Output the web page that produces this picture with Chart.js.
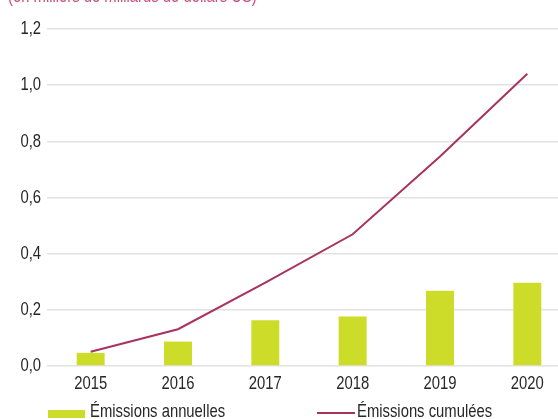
<!DOCTYPE html>
<html>
<head>
<meta charset="utf-8">
<script src="https://cdn.jsdelivr.net/npm/chart.js@4"></script>
<style>
  html,body{margin:0;padding:0;background:#fff;overflow:hidden;width:558px;height:419px;}
  #wrap{position:relative;width:572px;height:419px;}
  .txt{position:absolute;font:19px "Liberation Sans",sans-serif;line-height:19px;white-space:nowrap;transform:scaleX(0.78);transform-origin:0 0;}
  #title{left:8px;top:-14px;color:#c9507f;}
  .lg{top:401px;color:#272727;}
  .sw{position:absolute;}
</style>
</head>
<body>
<div id="wrap">
  <canvas id="c" width="572" height="419"></canvas>
  <div id="title" class="txt">(en milliers de milliards de dollars US)</div>
  <div class="sw" style="left:48px;top:410px;width:37px;height:8px;background:#cddc28"></div>
  <div class="txt lg" style="left:90px">Émissions annuelles</div>
  <div class="sw" style="left:317px;top:412px;width:38px;height:2px;background:#a8335e"></div>
  <div class="txt lg" style="left:357px">Émissions cumulées</div>
</div>
<script>
const years = ['2015','2016','2017','2018','2019','2020'];
const annual = [0.047, 0.087, 0.163, 0.176, 0.268, 0.296];
const cumulative = [0.051, 0.131, 0.297, 0.469, 0.746, 1.041];
const yTicks = [0, 0.2, 0.4, 0.6, 0.8, 1.0, 1.2];

// condensed look for canvas labels (no narrow font installed)
const ctx = document.getElementById('c').getContext('2d');
const rawFill = ctx.fillText.bind(ctx);
ctx.fillText = function(t, x, y, w){
  this.save(); this.translate(x, y); this.scale(0.78, 1);
  if (w === undefined) rawFill(t, 0, 0); else rawFill(t, 0, 0, w / 0.78);
  this.restore();
};

const font = { family: '"Liberation Sans",sans-serif', size: 19 };

new Chart(ctx, {
  data: {
    labels: years,
    datasets: [
      { type: 'line', label: 'Émissions cumulées', data: cumulative, borderColor: '#a8335e', borderWidth: 2, pointRadius: 0, tension: 0, order: 0 },
      { type: 'bar', label: 'Émissions annuelles', data: annual, backgroundColor: '#cddc28', barPercentage: 0.32, categoryPercentage: 1, order: 1 }
    ]
  },
  options: {
    responsive: false,
    animation: false,
    layout: { padding: { top: 29, right: 1, left: 0, bottom: 0 } },
    plugins: { legend: { display: false }, tooltip: { enabled: false } },
    scales: {
      x: {
        grid: { display: false },
        border: { display: false },
        ticks: { color: '#272727', font, padding: -2, maxRotation: 0 },
        afterFit: s => { s.height = 53; }
      },
      y: {
        min: 0, max: 1.2,
        afterBuildTicks: s => { s.ticks = yTicks.map(v => ({ value: v })); },
        grid: { color: '#e2e2e2', lineWidth: 1.5, drawTicks: false },
        border: { display: false },
        ticks: { color: '#272727', font, padding: 6, callback: v => v.toFixed(1).replace('.', ',') },
        afterFit: s => { s.width = 47; }
      }
    }
  }
});
</script>
</body>
</html>
